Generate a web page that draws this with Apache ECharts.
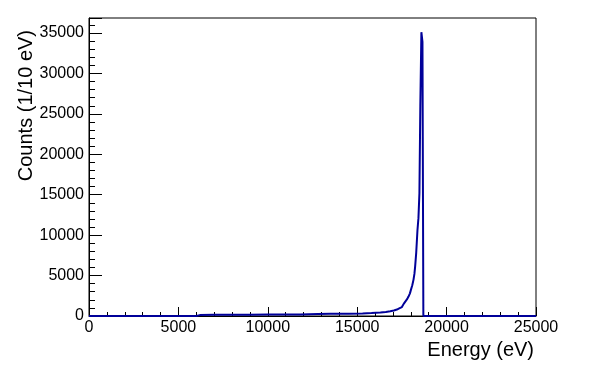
<!DOCTYPE html>
<html>
<head>
<meta charset="utf-8">
<script src="https://cdn.jsdelivr.net/npm/echarts@6/dist/echarts.min.js"></script>
<style>
  html, body { margin: 0; padding: 0; background: #fff; }
  #chart { width: 596px; height: 372px; }
</style>
</head>
<body>
<div id="chart"></div>
<script>
// bin left edges (eV) and counts
const energies = [0, 6000, 6200, 7000, 8000, 9000, 10000, 11000, 11800, 12800, 13500, 14500,
  15300, 15800, 16300, 16600, 16850, 17050, 17220, 17350, 17500, 17600, 17680, 17780,
  17870, 17950, 18000, 18080, 18150, 18200, 18240, 18300, 18370, 18425, 18480, 18530,
  18590, 18650, 18700, 25000]
const counts = [0, 110, 150, 160, 170, 180, 190, 200, 240, 270, 290, 320,
  360, 420, 500, 580, 680, 800, 950, 1100, 1300, 1500, 1750, 2050,
  2400, 2800, 3200, 3800, 4500, 5200, 6100, 7800, 10600, 12100, 15200, 26000,
  35100, 33900, 0, 0]

const chart = echarts.init(document.getElementById('chart'))

const font = 'Liberation Sans, Arial, Helvetica, sans-serif'

chart.setOption({
  backgroundColor: '#fff',
  animation: false,
  grid: {
    left: 89, right: 60, top: 18, bottom: 56,
    containLabel: false,
    outerBoundsMode: 'none',
    show: true, borderColor: '#000', borderWidth: 1, backgroundColor: 'transparent',
  },
  xAxis: {
    type: 'value',
    min: 0,
    max: 25000,
    interval: 5000,
    name: 'Energy (eV)',
    nameLocation: 'end',
    nameGap: 0,
    nameTextStyle: {
      fontFamily: font, fontSize: 20, color: '#000',
      align: 'right', verticalAlign: 'top', padding: [24, 2, 0, 0],
    },
    axisLine: { lineStyle: { color: '#000', width: 1 } },
    axisTick: { inside: true, length: 9, lineStyle: { color: '#000' } },
    minorTick: { show: true, splitNumber: 5, length: 4, lineStyle: { color: '#000' } },
    axisLabel: {
      fontFamily: font, fontSize: 16, color: '#000', margin: 4,
      formatter: (v) => String(v),
    },
    splitLine: { show: false },
  },
  yAxis: {
    type: 'value',
    min: 0,
    max: 36855,
    interval: 5000,
    name: 'Counts (1/10 eV)',
    nameLocation: 'end',
    nameRotate: 90,
    nameGap: -12,
    nameTextStyle: {
      fontFamily: font, fontSize: 20, color: '#000',
      align: 'right', verticalAlign: 'bottom', padding: [0, 0, 53, 0],
    },
    axisLine: { show: true, lineStyle: { color: '#000', width: 1 } },
    axisTick: { inside: true, length: 13, lineStyle: { color: '#000' } },
    minorTick: { show: true, splitNumber: 5, length: 6, lineStyle: { color: '#000' } },
    axisLabel: {
      fontFamily: font, fontSize: 16, color: '#000', margin: 5,
      showMaxLabel: false,
      formatter: (v) => String(v),
    },
    splitLine: { show: false },
  },
  series: [
    {
      type: 'line',
      step: 'end',
      showSymbol: false,
      data: energies.map((e, i) => [e, counts[i]]),
      lineStyle: { color: '#000099', width: 2 },
      clip: true,
    },
  ],
})
</script>
</body>
</html>
